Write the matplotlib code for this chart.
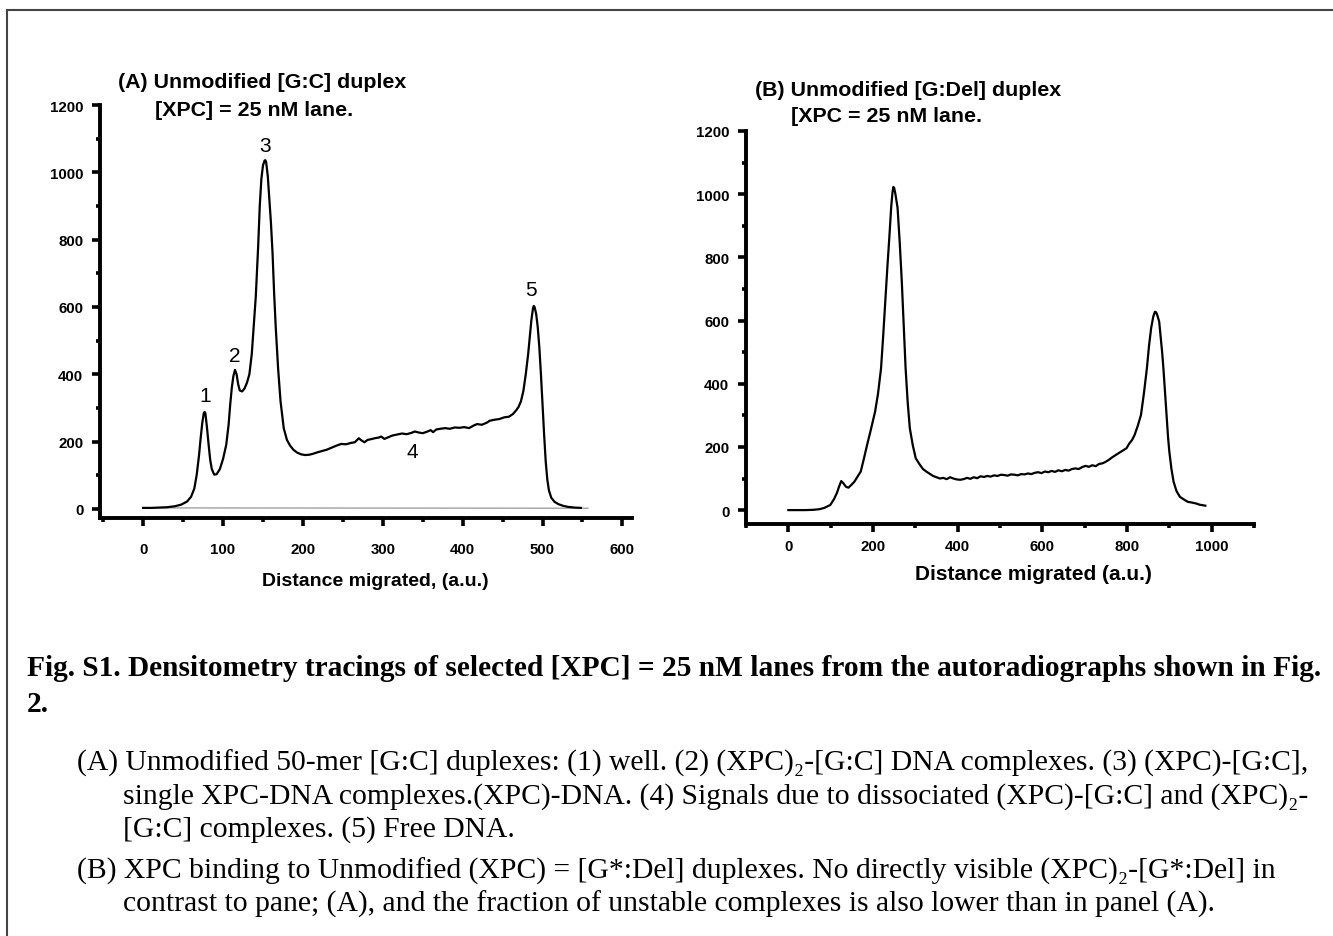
import matplotlib
matplotlib.use("Agg")
import matplotlib.pyplot as plt
from matplotlib.lines import Line2D
from matplotlib.ticker import MultipleLocator

# ---------------- data ----------------
a_x = [0, 10, 20, 30, 40, 48, 55, 60, 64, 67, 70, 72, 74, 76, 77, 78, 80, 82, 84, 86, 89, 92, 96, 100,
       104, 107, 109, 111, 113, 115, 117, 119, 121, 124, 127, 130, 133, 136, 139, 141, 144, 146, 148,
       150, 152, 153, 154, 156, 158, 160, 162, 164, 166, 169, 172, 176, 180, 184, 188, 193, 198, 203,
       208, 213, 218, 224, 230, 236, 242, 248, 254, 260, 265, 268, 270, 273, 277, 281, 285, 290, 295,
       298, 302, 307, 312, 318, 324, 330, 336, 340, 345, 350, 355, 360, 363, 367, 372, 378, 384, 390,
       396, 402, 408, 414, 418, 424, 430, 434, 440, 446, 452, 458, 463, 467, 470, 473, 476, 479, 482,
       484, 486, 488, 489, 490, 492, 494, 496, 498, 500, 502, 504, 506, 508, 511, 515, 520, 526, 532,
       540, 548]
a_y = [3, 3, 4, 5, 8, 13, 22, 36, 60, 100, 160, 210, 255, 285, 288, 283, 240, 190, 145, 118, 102, 103,
       118, 148, 190, 250, 310, 360, 395, 413, 400, 370, 352, 349, 358, 375, 400, 460, 560, 630, 780,
       900, 980, 1020, 1035, 1036, 1030, 990, 920, 850, 760, 640, 540, 416, 320, 240, 205, 188, 176,
       167, 162, 160, 161, 164, 168, 172, 176, 182, 188, 193, 192, 196, 198, 205, 210, 204, 198, 205,
       207, 210, 212, 215, 208, 213, 218, 221, 224, 222, 226, 230, 227, 225, 229, 234, 228, 236, 238,
       240, 238, 242, 241, 243, 240, 248, 252, 250, 256, 262, 265, 267, 272, 274, 282, 293, 303, 320,
       350, 400, 460, 510, 560, 595, 603, 600, 580, 540, 480, 400, 310, 220, 140, 87, 55, 33, 21, 14,
       9, 6, 4, 3]
a_base_x = [0, 557]
a_base_y = [3, 2]

b_x = [0, 20, 40, 60, 74, 85, 99, 108, 115, 120, 125, 130, 136, 142, 149, 156, 163, 171, 178, 186,
       195, 205, 212, 219, 224, 229, 234, 239, 243, 246, 248, 250, 253, 258, 263, 268, 272, 277, 282,
       287, 294, 301, 310, 318, 326, 334, 342, 350, 358, 366, 374, 382, 390, 398, 406, 414, 422, 430,
       438, 446, 454, 462, 470, 478, 486, 494, 502, 510, 518, 526, 534, 542, 550, 558, 566, 574, 582,
       590, 598, 606, 614, 622, 630, 638, 646, 654, 662, 670, 678, 686, 694, 702, 710, 718, 726, 734,
       742, 750, 758, 766, 774, 780, 786, 792, 799, 805, 812, 818, 825, 833, 840, 847, 852, 857, 862,
       866, 869, 872, 876, 880, 883, 886, 890, 894, 897, 900, 905, 910, 917, 925, 935, 944, 953, 963,
       972, 985]
b_y = [0, 0, 0, 1, 3, 7, 16, 35, 55, 75, 92, 85, 74, 71, 80, 90, 105, 122, 160, 206, 255, 312, 370,
       449, 550, 661, 770, 872, 960, 1005, 1023, 1020, 1000, 957, 850, 724, 600, 449, 340, 259, 205,
       164, 145, 130, 122, 115, 108, 104, 100, 102, 98, 104, 100, 97, 96, 98, 102, 99, 104, 101, 107,
       105, 108, 106, 110, 108, 112, 111, 109, 113, 112, 110, 114, 113, 116, 114, 118, 120, 117, 122,
       120, 124, 121, 126, 123, 127, 125, 130, 132, 130, 136, 140, 137, 142, 139, 146, 148, 153, 160,
       168, 175, 180, 185, 190, 196, 210, 222, 238, 265, 301, 370, 449, 520, 576, 612, 628, 626, 615,
       597, 540, 500, 449, 370, 290, 230, 185, 130, 90, 60, 42, 33, 26, 24, 21, 17, 14]

a_xticks = [0, 100, 200, 300, 400, 500, 600]
b_xticks = [0, 200, 400, 600, 800, 1000]
yticks = [0, 200, 400, 600, 800, 1000, 1200]

peak_labels = ["1", "2", "3", "4", "5"]
peak_label_x = [78, 115, 153, 337, 486]
peak_label_y = [338, 457, 1081, 172, 653]

title_a = ["(A) Unmodified [G:C] duplex", "[XPC] = 25 nM lane."]
title_b = ["(B) Unmodified [G:Del] duplex", "[XPC = 25 nM lane."]
xlabel_a = "Distance migrated, (a.u.)"
xlabel_b = "Distance migrated (a.u.)"

caption_title = ["Fig. S1. Densitometry tracings of selected [XPC] = 25 nM lanes from the autoradiographs shown in Fig.",
                 "2."]
caption_body = [
    ("(A) Unmodified 50-mer [G:C] duplexes: (1) well. (2) (XPC)\u2082-[G:C] DNA complexes. (3) (XPC)-[G:C],", 77),
    ("single XPC-DNA complexes.(XPC)-DNA. (4) Signals due to dissociated (XPC)-[G:C] and (XPC)\u2082-", 123),
    ("[G:C] complexes. (5) Free DNA.", 123),
    ("(B) XPC binding to Unmodified (XPC) = [G*:Del] duplexes. No directly visible (XPC)\u2082-[G*:Del] in", 77),
    ("contrast to pane; (A), and the fraction of unstable complexes is also lower than in panel (A).", 123),
]
caption_body_y = [763, 797, 830, 871, 904]

# ---------------- figure ----------------
W, H = 1333, 937
fig = plt.figure(figsize=(W / 100, H / 100), dpi=100)
fig.patch.set_facecolor("white")

SANS = ["Liberation Sans", "DejaVu Sans"]
SERIF = ["Liberation Serif", "DejaVu Serif"]


def fx(px):
    return px / W


def fy(py):
    return 1 - py / H


def style_axes(ax, xpad):
    for s in ["top", "right"]:
        ax.spines[s].set_visible(False)
    for s in ["left", "bottom"]:
        ax.spines[s].set_linewidth(2.8)
    ax.tick_params(which="major", direction="out", length=6, width=2.6, labelsize=10.8, pad=6)
    ax.tick_params(axis="x", which="major", pad=xpad)
    ax.tick_params(which="minor", direction="out", length=3, width=2.6)
    for lab in ax.get_xticklabels() + ax.get_yticklabels():
        lab.set_fontfamily(SANS)
        lab.set_fontweight("bold")


# Panel A
axA = fig.add_axes([fx(100), fy(519), fx(632) - fx(100), (519 - 106) / H])
axA.plot(a_base_x, a_base_y, color="#a0a0a0", lw=1.0)
axA.plot(a_x, a_y, color="black", lw=1.6)
axA.set_xlim(-54, 612)
axA.set_ylim(-27, 1200)
axA.set_xticks(a_xticks)
axA.set_yticks(yticks)
axA.xaxis.set_minor_locator(MultipleLocator(50))
axA.yaxis.set_minor_locator(MultipleLocator(100))
style_axes(axA, 11)
axA.set_xlabel(xlabel_a, fontsize=14, fontweight="bold", family=SANS, labelpad=12)
axA.xaxis.label.set_x(0.517)
for t, x, y in zip(peak_labels, peak_label_x, peak_label_y):
    axA.text(x, y, t, fontsize=15, family=SANS, ha="center", va="center")

# Panel B
axB = fig.add_axes([fx(746), fy(525), fx(1254) - fx(746), (525 - 132) / H])
axB.plot(b_x, b_y, color="black", lw=1.6)
axB.set_xlim(-100, 1100)
axB.set_ylim(-44, 1200)
axB.set_xticks(b_xticks)
axB.set_yticks(yticks)
axB.xaxis.set_minor_locator(MultipleLocator(100))
axB.yaxis.set_minor_locator(MultipleLocator(100))
style_axes(axB, 5)
axB.set_xlabel(xlabel_b, fontsize=15, fontweight="bold", family=SANS, labelpad=8)
axB.xaxis.label.set_x(0.565)

# Titles
TFS = 15.4
fig.text(fx(118), fy(83), title_a[0], fontsize=TFS, fontweight="bold", family=SANS, va="center")
fig.text(fx(155), fy(110), title_a[1], fontsize=TFS, fontweight="bold", family=SANS, va="center")
fig.text(fx(755), fy(91), title_b[0], fontsize=TFS, fontweight="bold", family=SANS, va="center")
fig.text(fx(791), fy(117), title_b[1], fontsize=TFS, fontweight="bold", family=SANS, va="center")

# Caption
fig.text(fx(27), fy(668), caption_title[0], fontsize=21.2, fontweight="bold", family=SERIF, va="center")
fig.text(fx(27), fy(705), caption_title[1], fontsize=21.2, fontweight="bold", family=SERIF, va="center")
for (t, x), y in zip(caption_body, caption_body_y):
    fig.text(fx(x), fy(y), t, fontsize=21.3, family=SERIF, va="center")

# Border (top and left edges)
fig.add_artist(Line2D([fx(7), 1.0], [fy(11), fy(11)], color="#444444", lw=1.5, transform=fig.transFigure))
fig.add_artist(Line2D([fx(7), fx(7)], [fy(11), 0.0], color="#444444", lw=1.5, transform=fig.transFigure))

fig.savefig("out.png", dpi=100)
